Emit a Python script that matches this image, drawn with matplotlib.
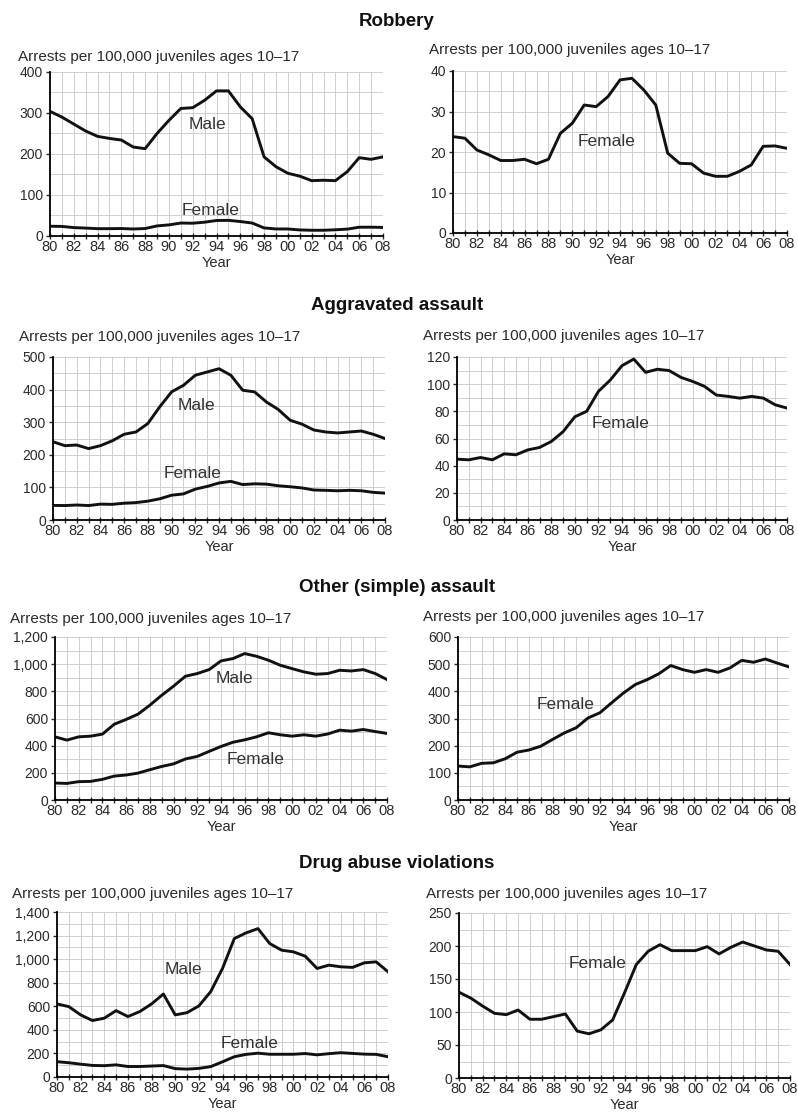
import numpy as np
import matplotlib
matplotlib.use('Agg')
import matplotlib.pyplot as plt
from matplotlib.ticker import MultipleLocator, FuncFormatter

plt.rcParams['font.family'] = ['Liberation Sans', 'DejaVu Sans']

years = np.arange(1980, 2009)

robbery_male = [304, 290, 273, 256, 243, 238, 234, 217, 213, 250, 282, 311, 313, 331, 354,
                354, 315, 286, 193, 169, 153, 146, 135, 136, 135, 157, 191, 187, 193]
robbery_female = [23.8, 23.4, 20.5, 19.3, 17.9, 17.9, 18.2, 17.1, 18.2, 24.6, 27.1, 31.6, 31.2, 33.7, 37.8,
                  38.2, 35.3, 31.6, 19.7, 17.2, 17.1, 14.8, 14.0, 14.0, 15.2, 16.8, 21.4, 21.5, 20.9]

aggr_male = [240, 228, 230, 219, 228, 243, 263, 270, 296, 347, 393, 413, 444, 454, 464,
             444, 398, 393, 362, 339, 306, 294, 276, 270, 267, 270, 273, 263, 250]
aggr_female = [44.8, 44.3, 46.0, 44.3, 48.7, 48.0, 51.6, 53.4, 57.8, 65.0, 76.0, 80.0, 94.7, 103.0, 113.6,
               118.5, 108.7, 111.0, 110.0, 105.0, 102.0, 98.4, 92.0, 91.0, 89.7, 91.0, 89.7, 84.8, 82.4]

simple_male = [465, 441, 465, 470, 485, 558, 593, 632, 698, 771, 838, 911, 931, 960, 1024,
               1041, 1078, 1058, 1029, 992, 967, 943, 926, 931, 955, 950, 960, 931, 887]
simple_female = [125, 122, 135, 137, 152, 176, 184, 198, 223, 247, 266, 302, 321, 358, 394,
                 425, 443, 465, 495, 480, 470, 480, 470, 486, 514, 507, 519, 504, 490]

drug_male = [620, 597, 527, 479, 499, 563, 513, 555, 620, 704, 527, 546, 603, 724, 921,
             1175, 1223, 1259, 1132, 1076, 1062, 1025, 921, 949, 935, 930, 969, 977, 893]
drug_female = [130, 121, 109, 98, 96, 103, 89, 89, 93, 97, 71, 67, 73, 88, 129,
               172, 192, 202, 193, 193, 193, 199, 188, 198, 206, 200, 194, 192, 172]

titles = ['Robbery', 'Aggravated assault', 'Other (simple) assault', 'Drug abuse violations']
subtitle = 'Arrests per 100,000 juveniles ages 10\u201317'

W, H = 798, 1114
fig = plt.figure(figsize=(W / 100, H / 100), dpi=100)


def px_axes(l, r, t, b):
    return fig.add_axes([l / W, 1 - b / H, (r - l) / W, (b - t) / H])


def style(ax, ymax, ystep):
    ax.set_xlim(1980, 2008)
    ax.set_ylim(0, ymax)
    ax.xaxis.set_major_locator(MultipleLocator(2))
    ax.xaxis.set_minor_locator(MultipleLocator(1))
    ax.xaxis.set_major_formatter(FuncFormatter(lambda v, p: f'{int(round(v)) % 100:02d}'))
    ax.yaxis.set_major_locator(MultipleLocator(ystep))
    ax.yaxis.set_minor_locator(MultipleLocator(ystep / 2))
    ax.yaxis.set_major_formatter(FuncFormatter(lambda v, p: f'{v:,.0f}'))
    ax.grid(True, which='both', color='#c8c8c8', lw=0.6)
    ax.set_axisbelow(True)
    for s in ['top', 'right']:
        ax.spines[s].set_visible(False)
    for s in ['left', 'bottom']:
        ax.spines[s].set_linewidth(1.3)
    ax.tick_params(axis='x', which='both', direction='inout', length=4, width=1,
                   labelsize=10.5, pad=1, colors='#2a2a2a')
    ax.tick_params(axis='y', which='major', direction='out', length=3, width=1,
                   labelsize=10, pad=2, colors='#2a2a2a')
    ax.tick_params(axis='y', which='minor', length=0)
    ax.set_xlabel('Year', fontsize=10.5, labelpad=1, color='#2a2a2a')


line_kw = dict(color='#111', lw=2.1)

panels = [
    dict(male=robbery_male, female=robbery_female,
         L=(50, 383, 72, 236), R=(453, 787, 71, 233),
         lmax=400, lstep=100, rmax=40, rstep=10,
         sub=((18, 57), (429, 50)), title_y=22,
         lab_m=(1993.2, 273), lab_f=(1993.5, 63), lab_r=(1992.9, 22.5)),
    dict(male=aggr_male, female=aggr_female,
         L=(53, 385, 357, 520), R=(457, 787, 357, 520),
         lmax=500, lstep=100, rmax=120, rstep=20,
         sub=((19, 337), (423, 336)), title_y=305,
         lab_m=(1992.1, 350), lab_f=(1991.8, 144), lab_r=(1993.9, 71)),
    dict(male=simple_male, female=simple_female,
         L=(55, 387, 637, 800), R=(458, 789, 637, 800),
         lmax=1200, lstep=200, rmax=600, rstep=100,
         sub=((10, 619), (423, 617)), title_y=588,
         lab_m=(1995.1, 897), lab_f=(1996.9, 300), lab_r=(1989.1, 353)),
    dict(male=drug_male, female=drug_female,
         L=(57, 388, 912, 1077), R=(459, 790, 913, 1078),
         lmax=1400, lstep=200, rmax=250, rstep=50,
         sub=((12, 894), (426, 894)), title_y=863,
         lab_m=(1990.7, 908), lab_f=(1996.3, 288), lab_r=(1991.7, 174)),
]

for title, p in zip(titles, panels):
    fig.text(397 / W, 1 - p['title_y'] / H, title, ha='center', va='center',
             fontsize=13.5, fontweight='bold', color='#111')
    for (sx, sy) in p['sub']:
        fig.text(sx / W, 1 - sy / H, subtitle, ha='left', va='center',
                 fontsize=11, color='#2a2a2a')

    axl = px_axes(*p['L'])
    style(axl, p['lmax'], p['lstep'])
    axl.plot(years, p['male'], **line_kw)
    axl.plot(years, p['female'], **line_kw)
    axl.text(*p['lab_m'], 'Male', ha='center', va='center', fontsize=12.5, color='#333')
    axl.text(*p['lab_f'], 'Female', ha='center', va='center', fontsize=12.5, color='#333')

    axr = px_axes(*p['R'])
    style(axr, p['rmax'], p['rstep'])
    axr.plot(years, p['female'], **line_kw)
    axr.text(*p['lab_r'], 'Female', ha='center', va='center', fontsize=12.5, color='#333')

fig.savefig('out.png', dpi=100)
